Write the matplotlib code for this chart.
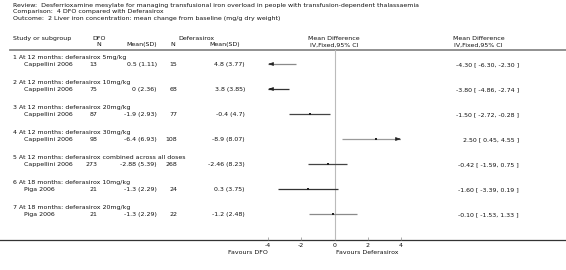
import matplotlib
matplotlib.use("Agg")
import matplotlib.pyplot as plt

# data
groups = ["1 At 12 months: deferasirox 5mg/kg",
          "2 At 12 months: deferasirox 10mg/kg",
          "3 At 12 months: deferasirox 20mg/kg",
          "4 At 12 months: deferasirox 30mg/kg",
          "5 At 12 months: deferasirox combined across all doses",
          "6 At 18 months: deferasirox 10mg/kg",
          "7 At 18 months: deferasirox 20mg/kg"]
studies = ["Cappellini 2006", "Cappellini 2006", "Cappellini 2006", "Cappellini 2006",
           "Cappellini 2006", "Piga 2006", "Piga 2006"]
dfo_n = [13, 75, 87, 98, 273, 21, 21]
dfo_msd = ["0.5 (1.11)", "0 (2.36)", "-1.9 (2.93)", "-6.4 (6.93)", "-2.88 (5.39)",
           "-1.3 (2.29)", "-1.3 (2.29)"]
def_n = [15, 68, 77, 108, 268, 24, 22]
def_msd = ["4.8 (3.77)", "3.8 (3.85)", "-0.4 (4.7)", "-8.9 (8.07)", "-2.46 (8.23)",
           "0.3 (3.75)", "-1.2 (2.48)"]
md = [-4.30, -3.80, -1.50, 2.50, -0.42, -1.60, -0.10]
lo = [-6.30, -4.86, -2.72, 0.45, -1.59, -3.39, -1.53]
hi = [-2.30, -2.74, -0.28, 4.55, 0.75, 0.19, 1.33]
ticks = [-4, -2, 0, 2, 4]

line_cols = ["#8a8a8a", "#333333", "#444444", "#9a9a9a", "#444444", "#333333", "#8a8a8a"]

FS = 4.5
TC = "#111111"

fig = plt.figure(figsize=(5.66, 2.70), dpi=100)
bg = fig.add_axes([0, 0, 1, 1])
bg.set_xlim(0, 566)
bg.set_ylim(270, 0)
bg.axis("off")

# y is the visual middle of the line; place on baseline so descenders don't shift it
def txt(x, y, s, ha="left"):
    bg.text(x, y + 1.9, s, ha=ha, va="baseline", fontsize=FS, color=TC)

txt(13, 5, "Review:  Desferrioxamine mesylate for managing transfusional iron overload in people with transfusion-dependent thalassaemia")
txt(13, 11.5, "Comparison:  4 DFO compared with Deferasirox")
txt(13, 18, "Outcome:  2 Liver iron concentration: mean change from baseline (mg/g dry weight)")

# column headers
txt(13, 38.5, "Study or subgroup")
txt(99, 38.5, "DFO", "center")
txt(99, 44.5, "N", "center")
txt(142, 44.5, "Mean(SD)", "center")
txt(196, 38.5, "Deferasirox", "center")
txt(173, 44.5, "N", "center")
txt(225, 44.5, "Mean(SD)", "center")
txt(334, 38.5, "Mean Difference", "center")
txt(334, 44.5, "IV,Fixed,95% CI", "center")
txt(479, 38.5, "Mean Difference", "center")
txt(478, 44.5, "IV,Fixed,95% CI", "center")

bg.plot([10, 566], [49.5, 49.5], color="#888888", lw=1.3)
bg.plot([0, 566], [240, 240], color="#333333", lw=0.9)

ax = fig.add_axes([268 / 566, 30 / 270, 133 / 566, 190 / 270])
ax.set_xlim(-4, 4)
ax.set_ylim(240, 50)
for sp in ax.spines.values():
    sp.set_visible(False)
ax.patch.set_alpha(0)
ax.axvline(0, color="#bbbbbb", lw=0.8)
ax.set_xticks(ticks)
ax.set_xticklabels([str(t) for t in ticks])
ax.tick_params(axis="x", direction="in", length=2, width=0.5, color="#888888",
               labelsize=FS, labelcolor=TC, pad=2)
ax.set_yticks([])

arrow = dict(arrowstyle="-|>,head_length=0.9,head_width=0.3",
             color="#222222", lw=0.5, mutation_scale=3.5)

for i in range(len(groups)):
    y = 64 + 25 * i
    txt(13, y - 7, groups[i])
    txt(24, y, studies[i])
    txt(97, y, str(dfo_n[i]), "right")
    txt(157, y, dfo_msd[i], "right")
    txt(177, y, str(def_n[i]), "right")
    txt(245, y, def_msd[i], "right")
    txt(519, y, "%.2f [ %.2f, %.2f ]" % (md[i], lo[i], hi[i]), "right")

    c = line_cols[i]
    a, b = max(lo[i], -4), min(hi[i], 4)
    ax.plot([a, b], [y, y], color=c, lw=0.9, solid_capstyle="butt")
    # clipped CI -> arrowhead at the axis edge
    if lo[i] < -4:
        ax.annotate("", xy=(-4, y), xytext=(-3.7, y), arrowprops=arrow)
    if hi[i] > 4:
        ax.annotate("", xy=(4, y), xytext=(3.7, y), arrowprops=arrow)
    ax.plot(md[i], y, marker="s", ms=1.6, color="#222222", mew=0)

bg.text(268, 253.9, "Favours DFO", ha="right", va="baseline", fontsize=FS, color=TC)
bg.text(336, 253.9, "Favours Deferasirox", ha="left", va="baseline", fontsize=FS, color=TC)

fig.savefig("out.png", dpi=100)
